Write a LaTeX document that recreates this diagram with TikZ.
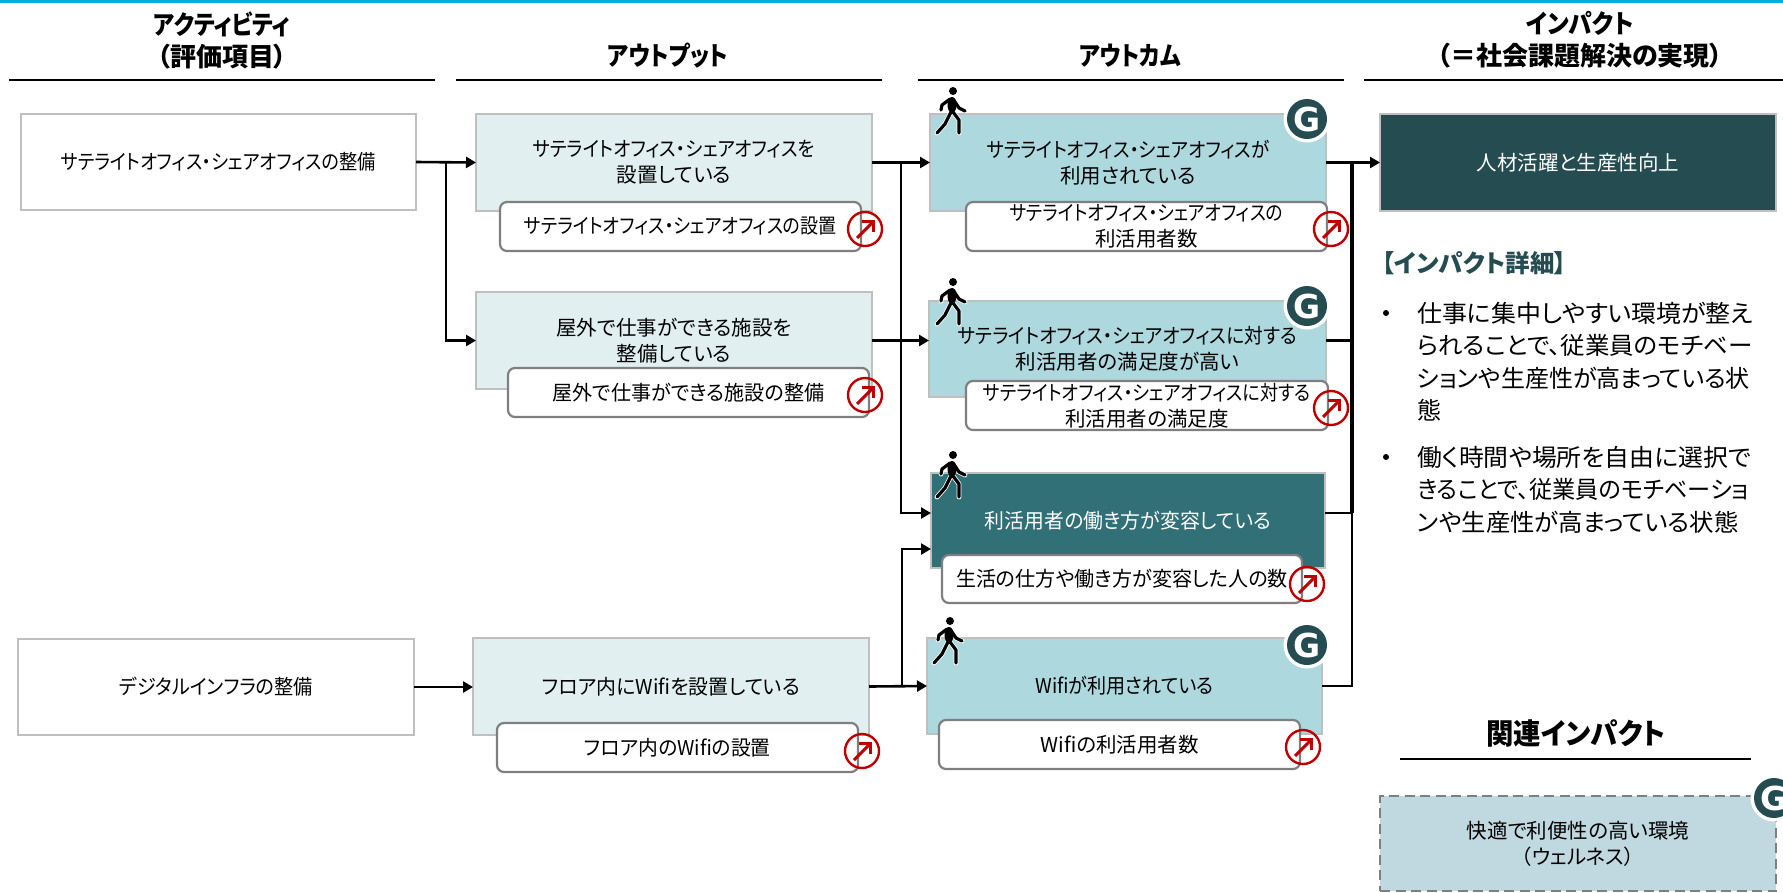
\documentclass[tikz,border=0pt]{standalone}
\usepackage{graphicx}
\usepackage{fontspec}
\setmainfont{Noto Sans CJK JP}[RawFeature={+palt}]
\newfontfamily\gfont{DejaVu Sans Bold}
\usetikzlibrary{arrows.meta}
\definecolor{topbar}{HTML}{00AEDB}
\definecolor{edgegrey}{HTML}{BFBFBF}
\definecolor{subgrey}{HTML}{7F7F7F}
\definecolor{outlight}{HTML}{E1EFF0}
\definecolor{outmid}{HTML}{ACD8DE}
\definecolor{outdark}{HTML}{317076}
\definecolor{impdark}{HTML}{244C51}
\definecolor{relfill}{HTML}{C0D9E0}
\definecolor{markred}{HTML}{C00000}
\tikzset{
  boxbase/.style={rectangle,inner sep=0pt,outer sep=0pt,align=center,text=black,font=\fontsize{20.5}{26}\selectfont},
  activity/.style={boxbase,draw=edgegrey,line width=2.4pt,fill=white},
  output/.style={activity,fill=outlight},
  outcome/.style={activity,fill=outmid},
  keyout/.style={activity,fill=outdark,text=white},
  impact/.style={activity,fill=impdark,text=white},
  related/.style={boxbase,draw=subgrey,line width=2.2pt,dash pattern=on 10pt off 5.5pt,fill=relfill},
  indicator/.style={boxbase,draw=subgrey,line width=2.2pt,fill=white,rounded corners=7pt},
  headtext/.style={align=center,inner sep=0pt,font=\fontsize{26}{32}\selectfont\bfseries},
  rule/.style={line width=2.2pt,black},
  link/.style={line width=2.6pt,black},
  arrowlink/.style={link,-{Triangle[length=10pt,width=11pt]}},
  bodytext/.style={align=left,anchor=west,inner sep=0pt,font=\fontsize{24}{32.5}\selectfont},
  walkerline/.style={line cap=round,line join=round,line width=3.2pt,black},
  walkerhalo/.style={line cap=round,line join=round,line width=4.8pt,white},
}
\newcommand{\sx}[2]{\scalebox{#1}[1]{#2}}
\newcommand{\bx}[7]{\node[#6,minimum width={#4-#2},minimum height={#5-#3}] (#1) at ({(#2+#4)/2},{(#3+#5)/2}) {#7};}
\newcommand{\gmark}[3]{%
  \fill[white] (#2,#3) circle (23.5);
  \fill[impdark] (#2,#3) circle (20);
  \node[text=white,inner sep=0pt,font=\gfont\fontsize{33}{33}\selectfont] (#1) at (#2,#3) {G};}
\newcommand{\upmark}[3]{%
  \node[circle,draw=markred,line width=2.4pt,minimum size=34pt,inner sep=0pt,outer sep=0pt] (#1) at (#2,#3) {};
  \begin{scope}[shift={(#2,#3)}]
    \draw[markred,line width=3pt,line join=miter] (-8,9) -- (8,-7);
    \draw[markred,line width=3pt,line join=miter] (-3,-8) -- (8,-8) -- (8,3);
  \end{scope}}
\newcommand{\walker}[2]{%
  \begin{scope}[shift={(#1,#2)}]
    \foreach \st in {walkerhalo,walkerline}{
      \draw[\st] (-1,8) -- (-1,21);
      \draw[\st] (0,8) -- (6,17) -- (12,20);
      \draw[\st] (-3,8) -- (-11,14) -- (-12,19);
      \draw[\st] (-2,21) -- (-8,33) -- (-16,42);
      \draw[\st] (0,21) -- (6,29) -- (6,42);
    }
    \fill[black] (-1,14) ellipse (4.5 and 8);
    \fill[black] (0,0) circle (4);
  \end{scope}}
\begin{document}
\begin{tikzpicture}[x=1pt,y=-1pt]
\useasboundingbox (0,0) rectangle (1783,892);
\clip (0,0) rectangle (1783,892);
\fill[topbar] (0,0) rectangle (1783,3);

% headers
\node[headtext] (h1) at (222,40) {\sx{.87}{アクティビティ}\\（評価項目）};
\node[headtext] (h2) at (668,56) {\sx{.87}{アウトプット}};
\node[headtext] (h3) at (1130,56) {\sx{.86}{アウトカム}};
\node[headtext] (h4) at (1580,40) {\sx{.91}{インパクト}\\（＝社会課題解決の実現）};
\draw[rule] (9,80) -- (435,80);
\draw[rule] (456,80) -- (882,80);
\draw[rule] (918,80) -- (1344,80);
\draw[rule] (1364,80) -- (1783,80);

% activities
\bx{a1}{21}{114}{416}{210}{activity}{\sx{.888}{サテライトオフィス・シェアオフィスの整備}}
\bx{a2}{18}{639}{414}{735}{activity}{\sx{.934}{デジタルインフラの整備}}

% outputs
\bx{o1}{476}{114}{872}{211}{output}{\sx{.9}{サテライトオフィス・シェアオフィスを}\\設置している}
\bx{o2}{476}{292}{872}{389}{output}{屋外で仕事ができる施設を\\整備している}
\bx{o3}{473}{638}{869}{735}{output}{\sx{.97}{フロア内にWifiを設置している}}

% outcomes
\bx{c1}{930}{114}{1326}{211}{outcome}{\sx{.9}{サテライトオフィス・シェアオフィスが}\\利用されている}
\bx{c2}{929}{301}{1326}{397}{outcome}{\sx{.914}{サテライトオフィス・シェアオフィスに対する}\\利活用者の満足度が高い}
\bx{c3}{931}{473}{1325}{568}{keyout}{\sx{.97}{利活用者の働き方が変容している}}
\bx{c4}{927}{638}{1322}{734}{outcome}{\sx{.93}{Wifiが利用されている}}

% impact
\bx{imp}{1380}{114}{1776}{211}{impact}{人材活躍と生産性向上}
\bx{rel}{1380}{796}{1776}{891}{related}{快適で利便性の高い環境\\（ウェルネス）}

% connector junctions
\coordinate (brA) at (446,162);
\coordinate (brO) at (901,162);
\coordinate (brW) at (902,686);
\coordinate (c3upper) at (931,513);
\coordinate (c3lower) at (931,549);
\coordinate (busTop) at (1352,162);

% connectors
\draw[arrowlink] (a1.east) -- (o1.west);
\draw[arrowlink] (brA) |- (o2.west);
\draw[arrowlink] (a2.east) -- (a2.east -| o3.west);
\draw[arrowlink] (o1.east) -- (c1.west);
\draw[arrowlink] (o2.east) -- (o2.east -| c2.west);
\draw[arrowlink] (brO) |- (c3upper);
\draw[arrowlink] (o3.east) -- (c4.west);
\draw[arrowlink] (brW) |- (c3lower);
\draw[arrowlink] (c1.east) -- (imp.west);
\draw[line width=3.2pt] (busTop) -- (busTop |- c3upper);
\draw[link,line join=miter] (c4.east) -| (busTop |- c3upper);
\draw[link] (o2.east -| c2.east) -- (o2.east -| busTop);
\draw[link] (c3upper -| c3.east) -- (c3upper -| busTop);

% indicators
\bx{s1}{500}{202}{861}{251}{indicator}{\sx{.88}{サテライトオフィス・シェアオフィスの設置}}
\bx{s2}{508}{368}{869}{417}{indicator}{\sx{.98}{屋外で仕事ができる施設の整備}}
\bx{s3}{497}{723}{858}{772}{indicator}{\sx{.965}{フロア内のWifiの設置}}
\bx{s4}{966}{202}{1327}{251}{indicator}{\sx{.87}{サテライトオフィス・シェアオフィスの}\\利活用者数}
\bx{s5}{966}{381}{1328}{430}{indicator}{\sx{.883}{サテライトオフィス・シェアオフィスに対する}\\利活用者の満足度}
\bx{s6}{942}{555}{1302}{603}{indicator}{\sx{.98}{生活の仕方や働き方が変容した人の数}}
\bx{s7}{939}{720}{1300}{769}{indicator}{Wifiの利活用者数}

% marks
\upmark{u1}{865}{229}
\upmark{u2}{865}{395}
\upmark{u3}{862}{751}
\upmark{u4}{1331}{229}
\upmark{u5}{1331}{408}
\upmark{u6}{1307}{584}
\upmark{u7}{1303}{747}
\gmark{g1}{1307}{119}
\gmark{g2}{1307}{306}
\gmark{g3}{1307}{645}
\gmark{g4}{1774}{798}
\walker{953}{91}
\walker{953}{282}
\walker{953}{455}
\walker{950}{621}

% impact detail
\node[anchor=west,inner sep=0pt,text=impdark,font=\fontsize{24.5}{30}\selectfont\bfseries] (dt) at (1382,263) {【インパクト詳細】};
\node[bodytext] (b1) at (1417,361.5) {\sx{1.04}{仕事に集中しやすい環境が整え}\\\sx{1.02}{られることで、従業員のモチベー}\\ションや生産性が高まっている状\\態};
\node[bodytext] (b2) at (1417,489.5) {\sx{1.035}{働く時間や場所を自由に選択で}\\\sx{.965}{きることで、従業員のモチベーショ}\\\sx{1.015}{ンや生産性が高まっている状態}};
\fill[black] (1386,313) circle (3);
\fill[black] (1386,457) circle (3);

% related impact
\node[inner sep=0pt,font=\fontsize{29}{34}\selectfont\bfseries] (rh) at (1576,733) {\sx{.945}{関連インパクト}};
\draw[rule] (1400,759) -- (1751,759);
\end{tikzpicture}
\end{document}
